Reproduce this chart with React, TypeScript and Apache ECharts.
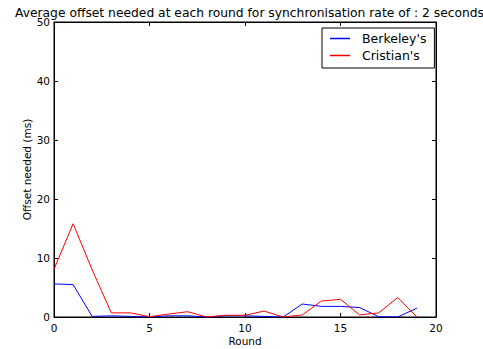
import React, { useEffect, useRef } from "react";
import * as echarts from "echarts";

const rounds = [0, 1, 2, 3, 4, 5, 6, 7, 8, 9, 10, 11, 12, 13, 14, 15, 16, 17, 18, 19];
const berkeley = [5.6, 5.5, 0.1, 0.2, 0.1, 0.0, 0.2, 0.2, 0.0, 0.2, 0.2, 0.1, 0.0, 2.2, 1.8, 1.8, 1.6, 0.05, 0.0, 1.5];
const cristian = [8.1, 15.8, 8.0, 0.7, 0.7, 0.05, 0.5, 0.9, 0.0, 0.3, 0.3, 1.0, 0.0, 0.35, 2.7, 3.0, 0.35, 0.7, 3.3, 0.0];
const seriesNames = ["Berkeley's", "Cristian's"];
const titleText = "Average offset needed at each round for synchronisation rate of : 2 seconds";

const FONT = "DejaVu Sans";

export default function App() {
  const ref = useRef<HTMLDivElement>(null);
  useEffect(() => {
    if (!ref.current) return;
    const chart = echarts.init(ref.current, null, { renderer: "svg" });
    const tick = { show: true, inside: true, length: 4, lineStyle: { color: "#000", width: 1 } };
    const axLine = { show: true, onZero: false, lineStyle: { color: "#000", width: 1 } };
    chart.setOption({
      animation: false,
      backgroundColor: "#fff",
      title: {
        text: titleText,
        left: 244.5,
        textAlign: "center",
        top: 2,
        textStyle: { fontFamily: FONT, fontSize: 12.3, fontWeight: "normal", color: "#000" },
      },
      legend: {
        data: seriesNames,
        orient: "vertical",
        left: 322,
        top: 28,
        width: 108,
        padding: [3, 8, 5, 8],
        itemGap: 2,
        itemWidth: 20,
        itemHeight: 1.5,
        icon: "rect",
        borderColor: "#000",
        borderWidth: 1,
        borderRadius: 0,
        backgroundColor: "#fff",
        textStyle: { fontFamily: FONT, fontSize: 12.5, color: "#000", padding: [0, 0, 0, 7], lineHeight: 15 },
      },
      grid: {
        left: 54, right: 47, top: 22, bottom: 32,
        outerBoundsMode: "none",
        containLabel: false,
        show: true, borderColor: "#000", borderWidth: 1, backgroundColor: "transparent",
      },
      xAxis: [
        {
          type: "value",
          min: 0,
          max: 20,
          interval: 5,
          name: "Round",
          nameLocation: "middle",
          nameGap: 18,
          nameMoveOverlap: false,
          nameTextStyle: { fontFamily: FONT, fontSize: 10.5, color: "#000" },
          axisLine: axLine,
          axisTick: tick,
          axisLabel: { fontFamily: FONT, fontSize: 10.5, color: "#000", margin: 5 },
          splitLine: { show: false },
        },
        {
          type: "value",
          position: "top",
          min: 0,
          max: 20,
          interval: 5,
          axisLine: axLine,
          axisTick: tick,
          axisLabel: { show: false },
          splitLine: { show: false },
        },
      ],
      yAxis: [
        {
          type: "value",
          min: 0,
          max: 50,
          interval: 10,
          name: "Offset needed (ms)",
          nameLocation: "middle",
          nameGap: 22,
          nameMoveOverlap: false,
          nameTextStyle: { fontFamily: FONT, fontSize: 10.5, color: "#000" },
          axisLine: axLine,
          axisTick: tick,
          axisLabel: { fontFamily: FONT, fontSize: 10.5, color: "#000", margin: 4 },
          splitLine: { show: false },
        },
        {
          type: "value",
          position: "right",
          min: 0,
          max: 50,
          interval: 10,
          axisLine: axLine,
          axisTick: tick,
          axisLabel: { show: false },
          splitLine: { show: false },
        },
      ],
      series: [
        {
          name: seriesNames[0],
          type: "line",
          data: rounds.map((r, i) => [r, berkeley[i]]),
          symbol: "none",
          lineStyle: { color: "#0000ff", width: 1 },
          itemStyle: { color: "#0000ff" },
        },
        {
          name: seriesNames[1],
          type: "line",
          data: rounds.map((r, i) => [r, cristian[i]]),
          symbol: "none",
          lineStyle: { color: "#ff0000", width: 1 },
          itemStyle: { color: "#ff0000" },
        },
      ],
    });
    return () => chart.dispose();
  }, []);
  return <div ref={ref} style={{ width: 483, height: 349, position: "absolute", left: 0, top: 0 }} />;
}
